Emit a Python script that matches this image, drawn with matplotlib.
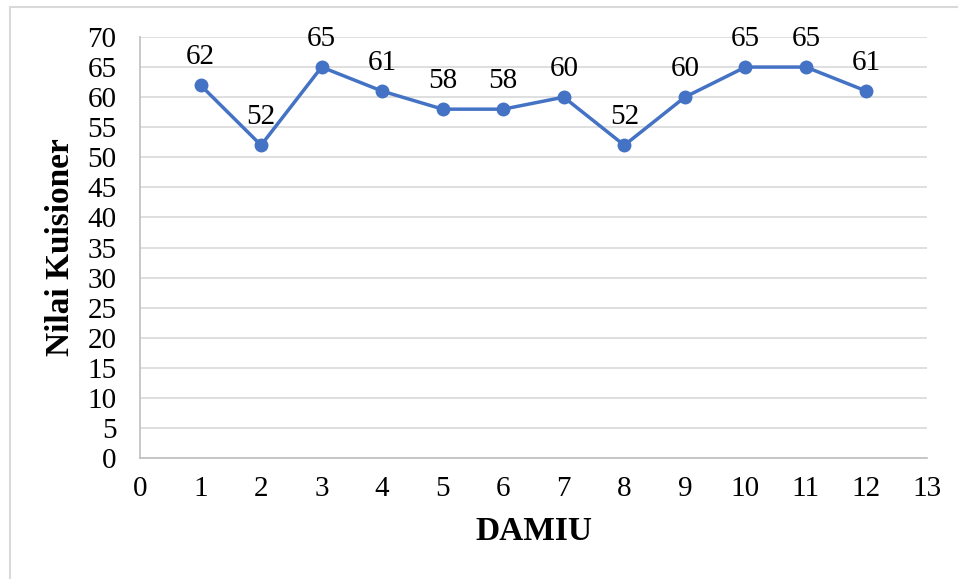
import matplotlib.pyplot as plt
from matplotlib.patches import Rectangle

damiu = [1, 2, 3, 4, 5, 6, 7, 8, 9, 10, 11, 12]
nilai = [62, 52, 65, 61, 58, 58, 60, 52, 60, 65, 65, 61]

plt.rcParams['font.family'] = ['Liberation Serif', 'DejaVu Serif']

fig = plt.figure(figsize=(9.58, 5.79), dpi=100)
# chart frame like the one in the original document
fig.patches.append(Rectangle((10 / 958, -0.05), 1.2, 1 - 7 / 579 + 0.05,
                             transform=fig.transFigure, fill=False,
                             edgecolor='#d9d9d9', linewidth=1.5))

ax = fig.add_axes([140 / 958, 1 - 458 / 579, (927 - 140) / 958, (458 - 37) / 579])
ax.plot(damiu, nilai, color='#4472C4', linewidth=2.5, marker='o', markersize=9, zorder=3)
for x, y in zip(damiu, nilai):
    ax.annotate(str(y), (x, y), xytext=(0, 11), textcoords='offset points',
                ha='center', va='bottom', fontsize=21)

ax.set_xlim(0, 13)
ax.set_ylim(0, 70)
ax.set_xticks(range(0, 14))
ax.set_yticks(range(0, 71, 5))
ax.grid(axis='y', color='#d9d9d9', linewidth=1.2)
ax.set_axisbelow(True)
for s in ['top', 'right']:
    ax.spines[s].set_visible(False)
ax.spines['left'].set_color('#bfbfbf')
ax.spines['bottom'].set_color('#bfbfbf')
ax.spines['left'].set_linewidth(1.2)
ax.spines['bottom'].set_linewidth(1.2)
ax.tick_params(length=0, labelsize=21)
ax.tick_params(axis='y', pad=17)
ax.tick_params(axis='x', pad=13)
ax.set_xlabel('DAMIU', fontsize=24, fontweight='bold', labelpad=10)
ax.set_ylabel('Nilai Kuisioner', fontsize=24, fontweight='bold', labelpad=8)

fig.savefig('out.png', dpi=100)
